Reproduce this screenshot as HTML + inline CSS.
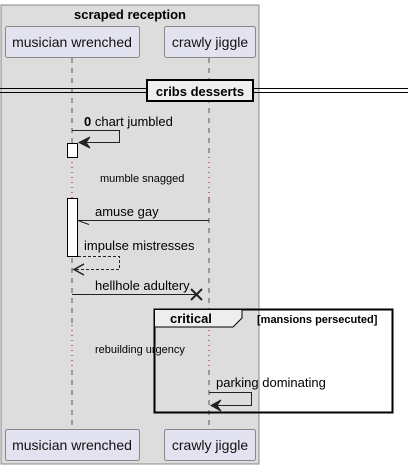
<!DOCTYPE html>
<html><head><meta charset="utf-8"><style>
html,body{margin:0;padding:0;background:#fff;}
svg text{font-family:"Liberation Sans",sans-serif;}
</style></head><body>
<svg width="408" height="470" viewBox="0 0 408 470" xmlns="http://www.w3.org/2000/svg">
<rect x="1" y="5" width="258" height="459" fill="#dddddd" stroke="#888" stroke-width="1"/>
<text x="130" y="19" font-size="13" font-weight="bold" text-anchor="middle">scraped reception</text>
<g stroke="#555" stroke-width="1" stroke-dasharray="5,5">
<line x1="72" y1="58" x2="72" y2="157"/>
<line x1="209" y1="58" x2="209" y2="157"/>
<line x1="72" y1="198" x2="72" y2="325"/>
<line x1="209" y1="198" x2="209" y2="325"/>
<line x1="72" y1="370" x2="72" y2="429"/>
<line x1="209" y1="370" x2="209" y2="429"/>
</g>
<g stroke="#b00040" stroke-width="1" stroke-dasharray="1,4">
<line x1="72" y1="157" x2="72" y2="198"/>
<line x1="209" y1="157" x2="209" y2="198"/>
<line x1="72" y1="325" x2="72" y2="370"/>
<line x1="209" y1="325" x2="209" y2="370"/>
</g>
<g fill="#e2e2f0" stroke="#888">
<rect x="5.5" y="26.5" width="134" height="31" rx="2"/>
<rect x="164.5" y="26.5" width="91" height="31" rx="2"/>
<rect x="5.5" y="429.5" width="134" height="31" rx="2"/>
<rect x="164.5" y="429.5" width="91" height="31" rx="2"/>
</g>
<g font-size="14" text-anchor="middle" fill="#111">
<text x="72" y="47">musician wrenched</text>
<text x="210" y="47">crawly jiggle</text>
<text x="72" y="450">musician wrenched</text>
<text x="210" y="450">crawly jiggle</text>
</g>
<line x1="0" y1="88.5" x2="408" y2="88.5" stroke="#000"/>
<line x1="0" y1="92.5" x2="408" y2="92.5" stroke="#000"/>
<rect x="147" y="80" width="106" height="21" fill="#eee" stroke="#000" stroke-width="2"/>
<text x="200" y="96" font-size="13" font-weight="bold" text-anchor="middle">cribs desserts</text>
<text x="84" y="126" font-size="13"><tspan font-weight="bold">0</tspan> chart jumbled</text>
<polyline points="72,130.5 119.5,130.5 119.5,142.5 79,142.5" fill="none" stroke="#222"/>
<path d="M90,137 L79,142.5 L90,148 L86,142.5 Z" fill="#222" stroke="#222"/>
<rect x="67.5" y="143.5" width="10" height="14" fill="#fff" stroke="#000"/>
<text x="100" y="182" font-size="11">mumble snagged</text>
<rect x="67.5" y="198.5" width="10" height="58" fill="#fff" stroke="#000"/>
<text x="95" y="216" font-size="13">amuse gay</text>
<line x1="209" y1="220.5" x2="78" y2="220.5" stroke="#222"/>
<line x1="78" y1="220.5" x2="89" y2="224.5" stroke="#222"/>
<text x="84" y="250" font-size="13">impulse mistresses</text>
<polyline points="78,256.5 119.5,256.5 119.5,269.5 73,269.5" fill="none" stroke="#222" stroke-dasharray="3,2"/>
<path d="M84,264 L74,269.5 L84,275" fill="none" stroke="#222" stroke-width="1.5"/>
<text x="95" y="290" font-size="13">hellhole adultery</text>
<line x1="72" y1="294.5" x2="196" y2="294.5" stroke="#222"/>
<path d="M191,289 L202,300 M202,289 L191,300" stroke="#222" stroke-width="2"/>
<rect x="154.5" y="309.5" width="238" height="103" fill="none" stroke="#000" stroke-width="2"/>
<path d="M154.5,309.5 L242,309.5 L242,318 L233,327 L154.5,327 Z" fill="#eee" stroke="#000"/>
<text x="170" y="323" font-size="13" font-weight="bold">critical</text>
<text x="257" y="323" font-size="11" font-weight="bold">[mansions persecuted]</text>
<text x="95" y="353" font-size="11">rebuilding urgency</text>
<text x="216" y="387" font-size="13">parking dominating</text>
<polyline points="209,392.5 251.5,392.5 251.5,405.5 211,405.5" fill="none" stroke="#222"/>
<path d="M221,400 L211,405.5 L221,411 L217,405.5 Z" fill="#222" stroke="#222"/>
</svg>
</body></html>
